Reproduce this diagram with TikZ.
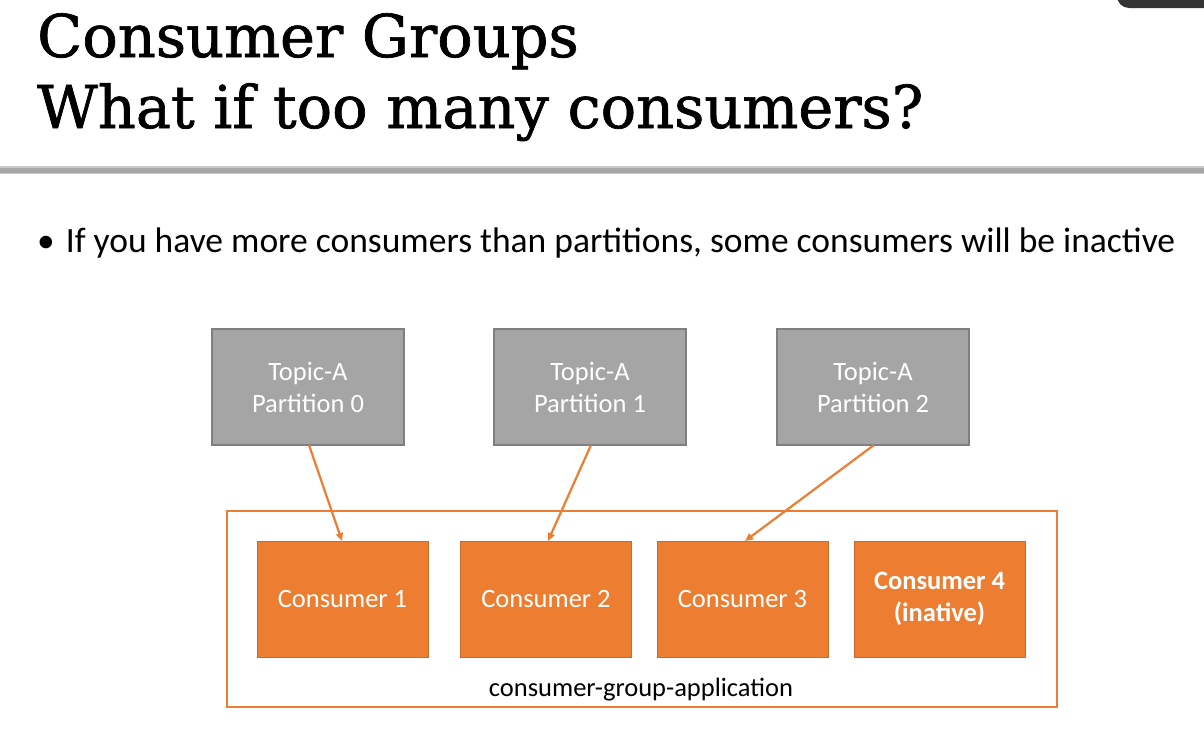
\documentclass[tikz,border=0pt]{standalone}
\usepackage{fontspec}
\setmainfont{Carlito}
\newfontfamily\titlefont[FakeBold=1.2,BoldFont={DejaVu Serif}]{DejaVu Serif}
\usetikzlibrary{arrows.meta}
\definecolor{topicgray}{HTML}{A5A5A5}
\definecolor{topicedge}{HTML}{7F7F7F}
\definecolor{consorange}{HTML}{ED7D31}
\definecolor{sepgray}{HTML}{A6A6A6}
\tikzset{
  topicbox/.style={draw=topicedge, line width=1.2pt, fill=topicgray, minimum width=192pt, minimum height=116pt, inner sep=0pt, text=white, align=center, font=\fontsize{26.5}{32}\selectfont},
  consbox/.style={draw=consorange!85!black, line width=0.6pt, fill=consorange, minimum width=171pt, minimum height=116pt, inner sep=0pt, text=white, align=center, font=\fontsize{26.5}{32}\selectfont},
  feed/.style={draw=consorange, line width=2.2pt, -{Triangle[length=8pt,width=7pt]}}
}
\begin{document}
\begin{tikzpicture}[x=1pt,y=-1pt]
\useasboundingbox (0,0) rectangle (1204,742);
\fill[white] (0,0) rectangle (1204,742);
% top-right overlay
\fill[black!80, rounded corners=12pt] (1117,-20) rectangle (1230,8);
% title
\node[anchor=base west, inner sep=0pt, font=\titlefont\bfseries\fontsize{59}{70}\selectfont] (t1) at (37,57) {Consumer Groups};
\node[anchor=base west, inner sep=0pt, font=\titlefont\bfseries\fontsize{59}{70}\selectfont] (t2) at (37,128) {What if too many consumers?};
% separator
\fill[sepgray!60] (0,166) rectangle (1204,174);
\fill[sepgray] (0,167.5) rectangle (1204,172.5);
% bullet
\node[anchor=base west, inner sep=0pt, font=\fontsize{35.5}{40}\selectfont] (b) at (37,252) {\textbullet\hspace{11pt}If you have more consumers than partitions, some consumers will be inactive};
% topics
\node[topicbox] (p0) at (308,387) {Topic-A\\Partition 0};
\node[topicbox] (p1) at (590,387) {Topic-A\\Partition 1};
\node[topicbox] (p2) at (873,387) {Topic-A\\Partition 2};
% group
\node[draw=consorange, line width=1.3pt, minimum width=830pt, minimum height=196pt, inner sep=0pt] (grp) at (642,609) {};
\node[consbox] (c1) at (342.5,599) {Consumer 1};
\node[consbox] (c2) at (546,599) {Consumer 2};
\node[consbox] (c3) at (742.5,599) {Consumer 3};
\node[consbox, font=\bfseries\fontsize{26.5}{32}\selectfont] (c4) at (939.5,599) {Consumer 4\\(inative)};
\node[inner sep=0pt, font=\fontsize{26.5}{30}\selectfont, anchor=base] (lbl) at (641,696) {consumer-group-application};
% arrows
\coordinate (a0) at (309,445);
\coordinate (e0) at (342,541);
\coordinate (a1) at (591,445);
\coordinate (e1) at (548,541);
\coordinate (a2) at (874,445);
\coordinate (e2) at (745,541);
\draw[feed] (a0) -- (e0);
\draw[feed] (a1) -- (e1);
\draw[feed] (a2) -- (e2);
\end{tikzpicture}
\end{document}
